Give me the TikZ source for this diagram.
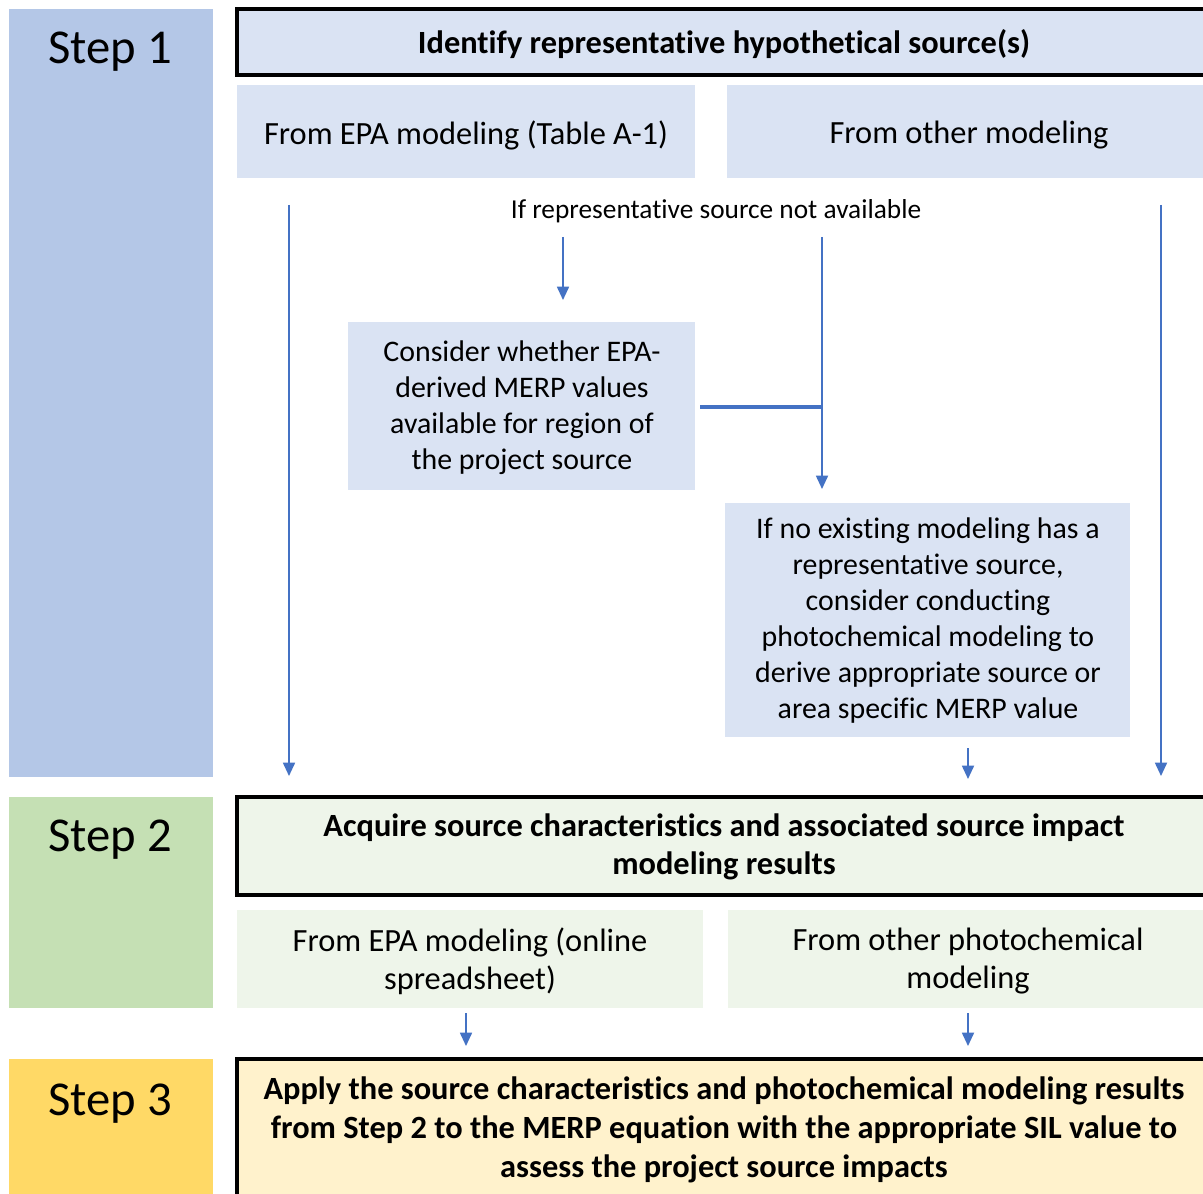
\documentclass[tikz,border=0pt]{standalone}
\usepackage{fontspec}
\setmainfont{Carlito}[Ligatures=NoCommon]
\usetikzlibrary{arrows.meta,fit}
\definecolor{sonedark}{HTML}{B4C7E7}
\definecolor{sonelight}{HTML}{DAE3F3}
\definecolor{stwodark}{HTML}{C5E0B4}
\definecolor{stwolight}{HTML}{EEF5EA}
\definecolor{sthreedark}{HTML}{FFD966}
\definecolor{sthreelight}{HTML}{FFF2CC}
\definecolor{arrowblue}{HTML}{4472C4}
\begin{document}
\begin{tikzpicture}[x=0.75pt,y=-0.75pt,
  colbox/.style={inner sep=0pt, outer sep=0pt},
  steplabel/.style={font=\fontsize{36.5}{40}\selectfont, inner sep=0pt, anchor=center},
  hdrbox/.style={draw=black, line width=2.4pt, inner sep=0pt, outer sep=0pt},
  hdrtext/.style={font=\bfseries\fontsize{24.3}{29}\selectfont, align=center, inner sep=0pt},
  subbox/.style={inner sep=0pt, outer sep=0pt},
  subtext/.style={font=\fontsize{24.3}{28.5}\selectfont, align=center, inner sep=0pt},
  midtext/.style={font=\fontsize{22.4}{27}\selectfont, align=center, inner sep=0pt},
  arr/.style={draw=arrowblue, line width=1.3pt, -{Triangle[width=9pt,length=10pt]}, arrowblue},
  link/.style={draw=arrowblue, line width=2.3pt}
]
\clip (0,0) rectangle (1203,1194);
\fill[white] (0,0) rectangle (1203,1194);

% step columns
\node[colbox, fill=sonedark, fit={(9,9)(213,777)}] (col1) {};
\node[colbox, fill=stwodark, fit={(9,797)(213,1008)}] (col2) {};
\node[colbox, fill=sthreedark, fit={(9,1059)(213,1210)}] (col3) {};
\node[steplabel] (lab1) at (110,52) {Step 1};
\node[steplabel] (lab2) at (110,840) {Step 2};
\node[steplabel] (lab3) at (110,1104) {Step 3};

% step 1
\node[hdrbox, fill=sonelight, fit={(237,9)(1215,75)}] (h1) {};
\node[hdrtext] (h1t) at (724,44) {Identify representative hypothetical source(s)};
\node[subbox, fill=sonelight, fit={(237,85)(695,178)}] (epa1) {};
\node[subtext] (epa1t) at (466,135) {From EPA modeling (Table A-1)};
\node[subbox, fill=sonelight, fit={(727,85)(1215,178)}] (oth1) {};
\node[subtext] (oth1t) at (969,135) {From other modeling};

\node[font=\fontsize{20.5}{24}\selectfont, inner sep=0pt] (cond) at (716,211) {If representative source not available};

\node[subbox, fill=sonelight, fit={(348,322)(695,490)}] (cons) {};
\node[midtext] (const) at (522,408) {Consider whether EPA-\\derived MERP values\\available for region of\\the project source};

\node[subbox, fill=sonelight, fit={(725,503)(1130,737)}] (noex) {};
\node[midtext] (noext) at (928,621) {If no existing modeling has a\\representative source,\\consider conducting\\photochemical modeling to\\derive appropriate source or\\area specific MERP value};

% step 2
\node[hdrbox, fill=stwolight, fit={(237,797)(1215,895)}] (h2) {};
\node[hdrtext] (h2t) at (724,847) {Acquire source characteristics and associated source impact\\modeling results};
\node[subbox, fill=stwolight, fit={(237,910)(703,1008)}] (epa2) {};
\node[subtext] (epa2t) at (470,961) {From EPA modeling (online\\spreadsheet)};
\node[subbox, fill=stwolight, fit={(728,910)(1215,1008)}] (oth2) {};
\node[subtext] (oth2t) at (968,961) {From other photochemical\\modeling};

% step 3
\node[hdrbox, fill=sthreelight, fit={(237,1059)(1215,1215)}] (h3) {};
\node[hdrtext] (h3t) at (724,1130) {Apply the source characteristics and photochemical modeling results\\from Step 2 to the MERP equation with the appropriate SIL value to\\assess the project source impacts};

% connectors
\coordinate (la) at (289,205);  \coordinate (lb) at (289,776);
\coordinate (ra) at (1161,205); \coordinate (rb) at (1161,776);
\coordinate (ma) at (563,237);  \coordinate (mb) at (563,300);
\coordinate (va) at (822,237);  \coordinate (vb) at (822,489);
\coordinate (j) at (822,407);   \coordinate (js) at (700,407);
\coordinate (na) at (968,748);  \coordinate (nb) at (968,779);
\coordinate (ea) at (466,1013); \coordinate (eb) at (466,1046);
\coordinate (oa) at (968,1013); \coordinate (ob) at (968,1046);

\draw[arr] (la) -- (lb);
\draw[arr] (ra) -- (rb);
\draw[arr] (ma) -- (mb);
\draw[arr] (va) -- (vb);
\draw[link] (js) -- (j);
\draw[arr] (na) -- (nb);
\draw[arr] (ea) -- (eb);
\draw[arr] (oa) -- (ob);
\end{tikzpicture}
\end{document}
